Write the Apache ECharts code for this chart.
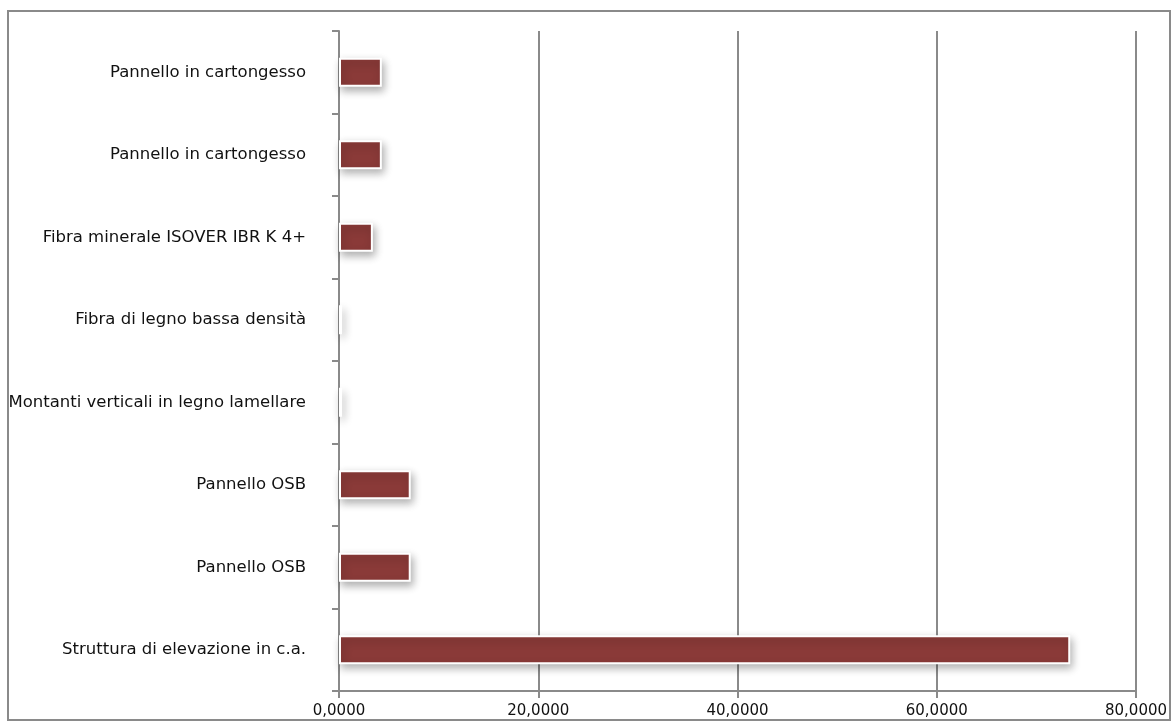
<!DOCTYPE html>
<html>
<head>
<meta charset="utf-8">
<script src="https://cdn.jsdelivr.net/npm/echarts@6/dist/echarts.min.js"></script>
<style>
html,body{margin:0;padding:0;background:#fff;}
#chart{width:1175px;height:722px;}
</style>
</head>
<body>
<div id="chart"></div>
<script>
const categories = [
  'Struttura di elevazione in c.a.',
  'Pannello OSB',
  'Pannello OSB',
  'Montanti verticali in legno lamellare',
  'Fibra di legno bassa densità',
  'Fibra minerale ISOVER IBR K 4+',
  'Pannello in cartongesso',
  'Pannello in cartongesso'
];
const values = [73.4, 7.2, 7.2, 0.3, 0.3, 3.4, 4.3, 4.3];
const xTicks = { min: 0, max: 80, interval: 20 };

const chart = echarts.init(document.getElementById('chart'), null, { renderer: 'canvas' });
const gray = '#8a8a8a';
const font = 'DejaVu Sans';
chart.setOption({
  backgroundColor: '#fff',
  animation: false,
  graphic: [{
    type: 'rect',
    shape: { x: 8, y: 11, width: 1162, height: 709 },
    style: { fill: 'none', stroke: gray, lineWidth: 2 },
    silent: true, z: 0
  }],
  grid: { left: 339, right: 39, top: 31, bottom: 31, containLabel: false },
  xAxis: {
    type: 'value',
    min: xTicks.min, max: xTicks.max, interval: xTicks.interval,
    axisLine: { show: true, lineStyle: { color: gray, width: 2 } },
    axisTick: { show: true, length: 7, lineStyle: { color: gray, width: 2 } },
    splitLine: { show: true, lineStyle: { color: gray, width: 2 } },
    axisLabel: {
      color: '#111', fontFamily: font, fontSize: 15, margin: 13,
      formatter: v => v.toFixed(4).replace('.', ',')
    }
  },
  yAxis: {
    type: 'category',
    data: categories,
    axisLine: { show: true, lineStyle: { color: gray, width: 2 } },
    axisTick: { show: true, length: 7, lineStyle: { color: gray, width: 2 } },
    axisLabel: { color: '#111', fontFamily: font, fontSize: 16.5, margin: 33 },
    splitLine: { show: false }
  },
  series: [{
    type: 'bar',
    data: values,
    barWidth: 29,
    itemStyle: {
      color: '#8a3a38',
      borderColor: '#fff',
      borderWidth: 2,
      shadowBlur: 8,
      shadowColor: 'rgba(0,0,0,0.3)',
      shadowOffsetX: 2,
      shadowOffsetY: 4
    }
  }]
});
</script>
</body>
</html>
